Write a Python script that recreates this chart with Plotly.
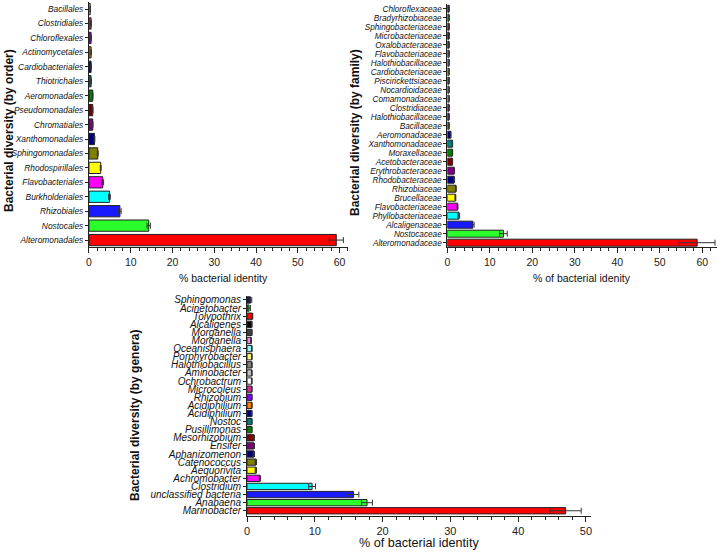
import plotly.graph_objects as go

# ---------------- data (listed bottom -> top) ----------------
order_labels = ["Alteromonadales", "Nostocales", "Rhizobiales", "Burkholderiales",
                "Flavobacteriales", "Rhodospirillales", "Sphingomonadales", "Xanthomonadales",
                "Chromatiales", "Pseudomonadales", "Aeromonadales", "Thiotrichales",
                "Cardiobacteriales", "Actinomycetales", "Chloroflexales", "Clostridiales",
                "Bacillales"]
order_values = [59.2, 14.3, 7.4, 4.9, 3.3, 2.8, 2.1, 1.3, 0.9, 0.9, 0.9, 0.5, 0.5, 0.5, 0.5, 0.5, 0.3]
order_err = [1.7, 0.4, 0.3, 0.2, 0.2, 0.1, 0.1, 0.1, 0.05, 0.05, 0.05, 0.05, 0.05, 0.05, 0.05, 0.05, 0.05]
order_colors = ["#ff0000", "#2bff2b", "#1a1aff", "#00ffff", "#ff00ff", "#ffff00", "#808000",
                "#000080", "#800080", "#800000", "#008000", "#008080", "#000080", "#ff8000",
                "#8000ff", "#cc3366", "#ffffff"]

family_labels = ["Alteromonadaceae", "Nostocaceae", "Alcaligenaceae", "Phyllobacteriaceae",
                 "Flavobacteriaceae", "Brucellaceae", "Rhizobiaceae", "Rhodobacteraceae",
                 "Erythrobacteraceae", "Acetobacteraceae", "Moraxellaceae", "Xanthomonadaceae",
                 "Aeromonadaceae", "Bacillaceae", "Halothiobacillaceae", "Clostridiaceae",
                 "Comamonadaceae", "Nocardioidaceae", "Piscirickettsiaceae", "Cardiobacteriaceae",
                 "Halothiobacillaceae", "Flavobacteriaceae", "Oxalobacteraceae", "Microbacteriaceae",
                 "Sphingobacteriaceae", "Bradyrhizobiaceae", "Chloroflexaceae"]
family_values = [58.8, 13.2, 6.0, 2.7, 2.4, 1.9, 2.0, 1.6, 1.6, 1.2, 1.2, 1.2, 0.8, 0.4, 0.4,
                 0.4, 0.4, 0.4, 0.4, 0.4, 0.4, 0.4, 0.4, 0.4, 0.4, 0.4, 0.4]
family_err = [4.2, 0.9, 0.3, 0.2, 0.1, 0.1, 0.1, 0.1, 0.1, 0.05, 0.05, 0.05, 0.05, 0.05, 0.05,
              0.05, 0.05, 0.05, 0.05, 0.05, 0.05, 0.05, 0.05, 0.05, 0.05, 0.05, 0.05]
family_colors = ["#ff0000", "#2bff2b", "#1a1aff", "#00ffff", "#ff00ff", "#ffff00", "#808000",
                 "#000080", "#800080", "#800000", "#008000", "#008080", "#000080", "#ff8000",
                 "#8000ff", "#cc3399", "#ffffff", "#c0c0c0", "#808080", "#ffff80", "#80ffff",
                 "#ff80ff", "#404040", "#000000", "#ff0000", "#00ff00", "#0000cc"]

genera_labels = ["Marinobacter", "Anabaena", "unclassified bacteria", "Clostridium",
                 "Achromobacter", "Aequorivita", "Catenococcus", "Aphanizomenon", "Ensifer",
                 "Mesorhizobium", "Pusillimonas", "Nostoc", "Acidiphilium", "Acidiphilium",
                 "Rhizobium", "Microcoleus", "Ochrobactrum", "Aminobacter", "Halothiobacillus",
                 "Porphyrobacter", "Oceanisphaera", "Morganella", "Morganella", "Alcaligenes",
                 "Tolypothrix", "Acinetobacter", "Sphingomonas"]
genera_values = [47.0, 17.7, 15.7, 9.6, 1.9, 1.3, 1.3, 1.0, 1.0, 1.0, 0.7, 0.7, 0.7, 0.7, 0.7,
                 0.7, 0.7, 0.7, 0.7, 0.7, 0.7, 0.6, 0.7, 0.7, 0.8, 0.3, 0.5]
genera_err = [2.3, 0.8, 0.8, 0.5, 0.1, 0.1, 0.1, 0.1, 0.1, 0.1, 0.05, 0.05, 0.05, 0.05, 0.05,
              0.05, 0.05, 0.05, 0.05, 0.05, 0.05, 0.05, 0.05, 0.05, 0.05, 0.2, 0.2]
genera_colors = ["#ff0000", "#2bff2b", "#1a1aff", "#00ffff", "#ff00ff", "#ffff00", "#808000",
                 "#000080", "#800080", "#800000", "#008000", "#008080", "#000080", "#ff8000",
                 "#8000ff", "#cc3399", "#ffffff", "#c0c0c0", "#808080", "#ffff80", "#80ffff",
                 "#ff80ff", "#404040", "#000000", "#ff0000", "#00ff00", "#000080"]

FONT = "Liberation Sans, Arial, sans-serif"

fig = go.Figure()

panels = [
    (order_labels, order_values, order_err, order_colors, "x", "y"),
    (family_labels, family_values, family_err, family_colors, "x2", "y2"),
    (genera_labels, genera_values, genera_err, genera_colors, "x3", "y3"),
]
for labels, vals, errs, cols, xa, ya in panels:
    fig.add_trace(go.Bar(
        x=vals, y=list(range(len(labels))), orientation="h",
        marker=dict(color=cols, line=dict(color="#222222", width=1)),
        width=0.78,
        error_x=dict(type="data", array=errs, visible=True, color="#333333",
                     thickness=1, width=3),
        xaxis=xa, yaxis=ya, showlegend=False,
    ))


def xax(domain, rng, anchor, size):
    return dict(domain=domain, range=rng, anchor=anchor, showgrid=False, zeroline=False,
                automargin=False,
                showline=True, linecolor="#222222", linewidth=1,
                ticks="outside", ticklen=5, tickcolor="#222222", dtick=10, tick0=0,
                tickfont=dict(family=FONT, size=size, color="#222222"),
                minor=dict(dtick=2, ticks="outside", ticklen=3, tickcolor="#222222"))


def yax(domain, rng, anchor, labels, size):
    return dict(domain=domain, range=rng, anchor=anchor, showgrid=False, zeroline=False,
                automargin=False,
                showline=True, linecolor="#222222", linewidth=1,
                ticks="outside", ticklen=3, tickcolor="#222222",
                tickmode="array", tickvals=list(range(len(labels))), ticktext=labels,
                tickfont=dict(family=FONT, size=size, color="#111111", style="italic"))


fig.update_layout(
    width=720, height=552,
    margin=dict(l=0, r=0, t=0, b=0),
    paper_bgcolor="white", plot_bgcolor="white",
    xaxis=xax([0.1236, 0.4833], [0, 62], "y", 10.5),
    yaxis=yax([0.552, 0.9967], [-0.5, 16.5], "x", order_labels, 8.4),
    xaxis2=xax([0.6213, 0.9954], [0, 63.4], "y2", 10.5),
    yaxis2=yax([0.5522, 0.9924], [-0.5, 26.5], "x2", family_labels, 8.2),
    xaxis3=xax([0.3431, 0.8204], [0, 50.7], "y3", 11),
    yaxis3=yax([0.0659, 0.4639], [-0.6, 26.5], "x3", genera_labels, 10),
)

ann = [
    dict(text="<b>Bacterial diversity (by order)</b>", x=9 / 720, y=1 - 131 / 552,
         textangle=-90, font=dict(size=12)),
    dict(text="<b>Bacterial diversity (by family)</b>", x=355 / 720, y=1 - 133 / 552,
         textangle=-90, font=dict(size=12)),
    dict(text="<b>Bacterial diversity (by genera)</b>", x=135 / 720, y=1 - 416 / 552,
         textangle=-90, font=dict(size=12)),
    dict(text="% bacterial identity", x=223 / 720, y=1 - 278 / 552, font=dict(size=10.5)),
    dict(text="% of bacterial idenity", x=582 / 720, y=1 - 278 / 552, font=dict(size=10.5)),
    dict(text="% of bacterial identity", x=419 / 720, y=1 - 543 / 552, font=dict(size=12.6)),
]
for a in ann:
    a.update(xref="paper", yref="paper", showarrow=False, xanchor="center", yanchor="middle")
    a["font"].update(family=FONT, color="#111111")
fig.update_layout(annotations=ann)

fig.write_html("out.html", config={"displayModeBar": False},
               post_script="document.body.style.margin='0';document.body.style.padding='0';")
